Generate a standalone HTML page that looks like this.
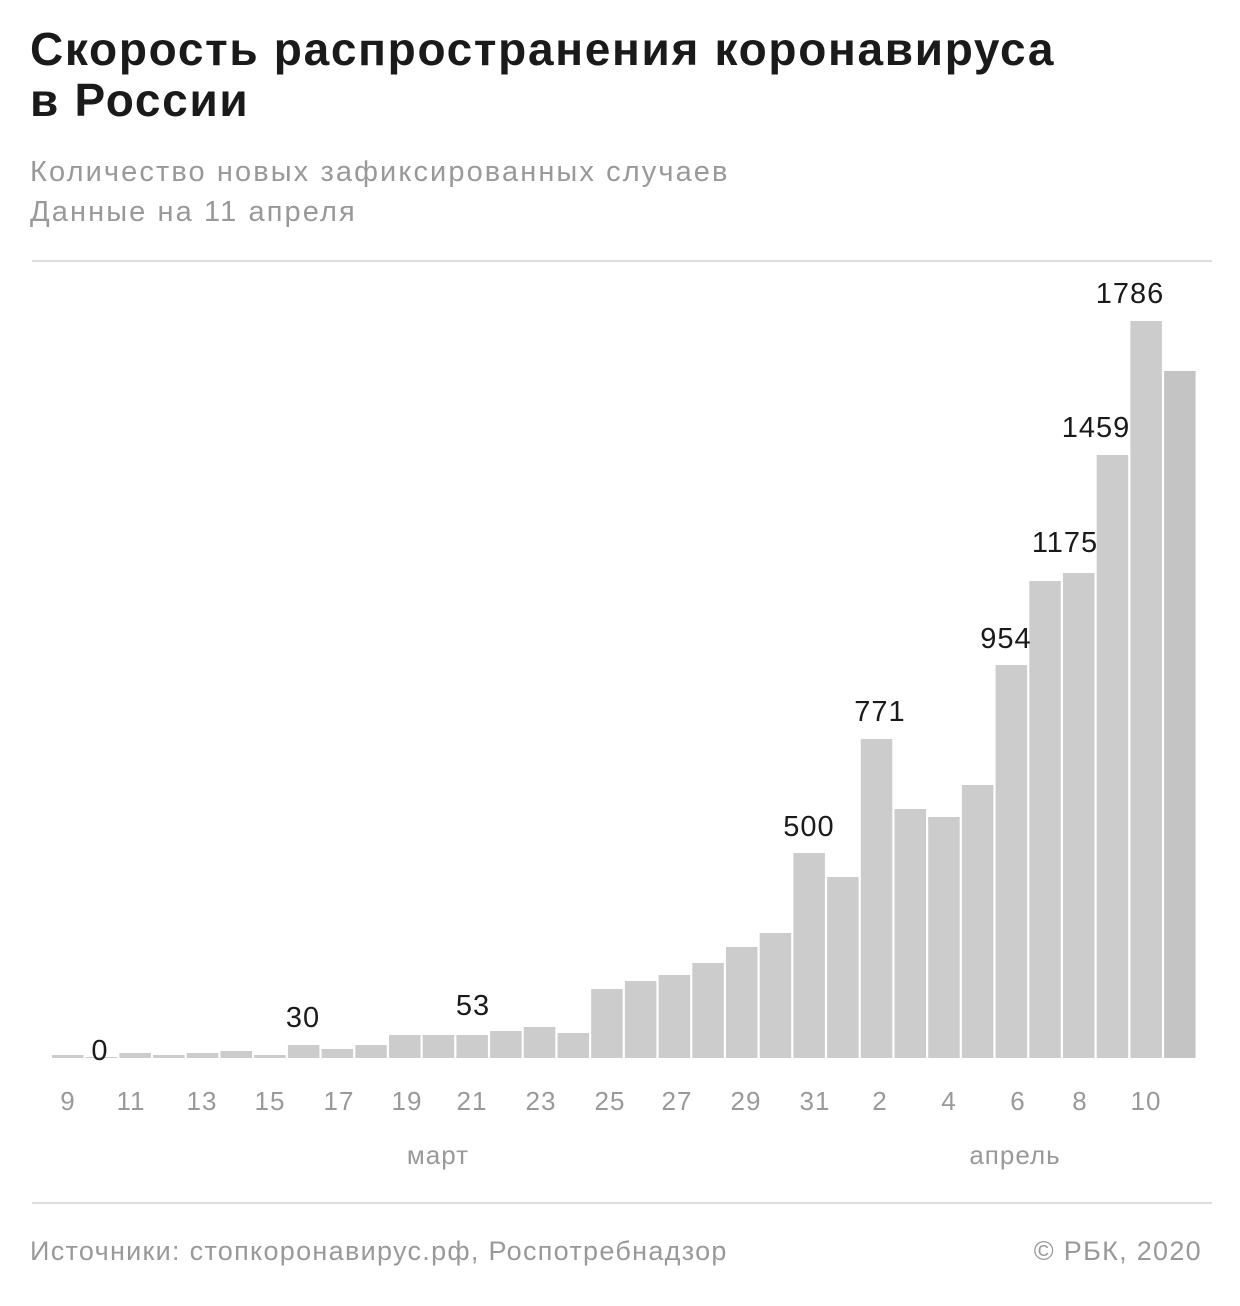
<!DOCTYPE html>
<html><head><meta charset="utf-8"><style>
body{margin:0;background:#fff;width:1240px;height:1306px;overflow:hidden;font-family:"Liberation Sans",sans-serif;position:relative}
.t{position:absolute;left:30px;top:24px;font-size:46px;font-weight:bold;color:#1a1a1a;line-height:51px;letter-spacing:1.7px;white-space:nowrap}
.s{position:absolute;left:30px;top:152px;font-size:29px;color:#999;line-height:40px;letter-spacing:2.1px;white-space:nowrap}
.hr{position:absolute;left:32px;width:1180px;height:2px;background:#ddd}
.f{position:absolute;top:1236px;font-size:27px;color:#999;letter-spacing:1.3px;white-space:nowrap}
</style></head><body>
<div class="t">Скорость распространения коронавируса<br>в России</div>
<div class="s">Количество новых зафиксированных случаев<br>Данные на 11 апреля</div>
<div class="hr" style="top:260px"></div>
<div class="hr" style="top:1202px"></div>
<div class="f" style="left:30px">Источники: стопкоронавирус.рф, Роспотребнадзор</div>
<div class="f" style="right:38px">© РБК, 2020</div>
<svg width="1240" height="1306" style="position:absolute;left:0;top:0" font-family="Liberation Sans, sans-serif">
<g fill="#cccccc" id="b"></g>
<g font-size="29" fill="#1a1a1a" text-anchor="middle" letter-spacing="1">
<text x="100" y="1060">0</text><text x="303" y="1027">30</text><text x="473" y="1015">53</text>
<text x="809" y="836">500</text><text x="880" y="721">771</text><text x="1006" y="648">954</text>
<text x="1065" y="552">1175</text><text x="1096" y="437">1459</text><text x="1130" y="303">1786</text>
</g>
<g font-size="26" fill="#999" text-anchor="middle" letter-spacing="1">
<text x="68" y="1110">9</text><text x="131" y="1110">11</text><text x="202" y="1110">13</text><text x="270" y="1110">15</text><text x="339" y="1110">17</text><text x="407" y="1110">19</text><text x="472" y="1110">21</text><text x="541" y="1110">23</text><text x="610" y="1110">25</text><text x="677" y="1110">27</text><text x="746" y="1110">29</text><text x="815" y="1110">31</text><text x="880" y="1110">2</text><text x="949" y="1110">4</text><text x="1018" y="1110">6</text><text x="1080" y="1110">8</text><text x="1146" y="1110">10</text>
<text x="438" y="1164">март</text><text x="1015" y="1164">апрель</text>
</g>
</svg>
<script>
var tops=[1055,1057,1053,1055,1053,1051,1055,1045,1049,1045,1035,1035,1035,1031,1027,1033,989,981,975,963,947,933,853,877,739,809,817,785,665,581,573,455,321,371];
var g=document.getElementById('b'),s='';
for(var i=0;i<tops.length;i++){var x=52+i*33.7;s+='<rect x="'+x.toFixed(1)+'" y="'+tops[i]+'" width="31.5" height="'+(1058-tops[i])+'"'+(i==33?' fill="#c4c4c4"':'')+'/>';}
g.innerHTML=s;
</script>
</body></html>
